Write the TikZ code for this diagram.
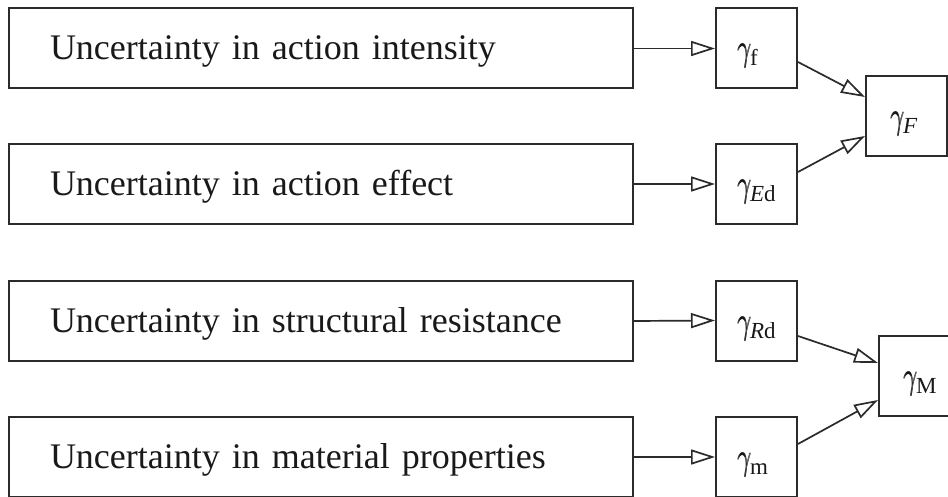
\documentclass[tikz,border=0pt]{standalone}
\usepackage{fontspec}
\setmainfont{Liberation Serif}
\usetikzlibrary{arrows.meta}
\definecolor{ln}{HTML}{2B2B2B}
\newcommand{\gglyph}{\scalebox{2.4}[3.8]{$\gamma$}}
\newcommand{\gsym}[1]{\makebox[0pt][l]{\gglyph}\kern0.8pt\gglyph\kern-1.5pt\raisebox{-5pt}{\fontsize{23}{23}\selectfont #1}}
\begin{document}
\begin{tikzpicture}[x=1pt,y=-1pt,
  bigbox/.style={draw=ln, line width=2pt, minimum height=80pt, text width=542pt,
    inner xsep=41pt, inner ysep=0pt, align=left, text height=30pt, text depth=7pt,
    font=\fontsize{36}{40}\selectfont, text=black!90},
  gbox/.style={draw=ln, line width=2pt, minimum height=80pt, text width=39pt,
    inner xsep=21pt, inner ysep=0pt, align=left, text height=31pt, text depth=6pt, text=black!90},
  arr/.style={draw=ln, line width=1.7pt, -{Triangle[open, length=24pt, width=15pt, line width=1.7pt]}}]
\useasboundingbox (0,0) rectangle (948,497);
\fill[white] (0,0) rectangle (948,497);
\node[bigbox] (u1) at (321,48.5) {Uncertainty in action intensity};
\node[bigbox] (u2) at (321,184) {Uncertainty in action effect};
\node[bigbox] (u3) at (321,321) {Uncertainty in structural resistance};
\node[bigbox] (u4) at (321,457) {Uncertainty in material properties};
\node[gbox] (gf) at (756.5,48.5) {\gsym{f}};
\node[gbox] (gEd) at (756.5,184) {\gsym{\textit{E}d}};
\node[gbox] (gRd) at (756.5,320.5) {\gsym{\textit{R}d}};
\node[gbox] (gm) at (756.5,457) {\gsym{m}};
\node[gbox, inner xsep=24pt, text width=33pt] (gF) at (906.5,116.5) {\gsym{\textit{F}}};
\node[gbox, inner xsep=24pt, text width=33pt] (gM) at (919.5,376) {\gsym{M}};
\draw[arr] (u1.east) -- (gf.west);
\draw[arr] (u2.east) -- (gEd.west);
\draw[arr] (u3.east) -- (gRd.west);
\draw[arr] (u4.east) -- (gm.west);
\draw[arr] ([yshift=-13.5pt]gf.east) -- ([yshift=19.5pt]gF.west);
\draw[arr] ([yshift=12pt]gEd.east) -- ([yshift=-19.5pt]gF.west);
\draw[arr] ([yshift=-15.5pt]gRd.east) -- ([yshift=13pt]gM.west);
\draw[arr] ([yshift=13pt]gm.east) -- ([yshift=-24pt]gM.west);
\end{tikzpicture}
\end{document}
